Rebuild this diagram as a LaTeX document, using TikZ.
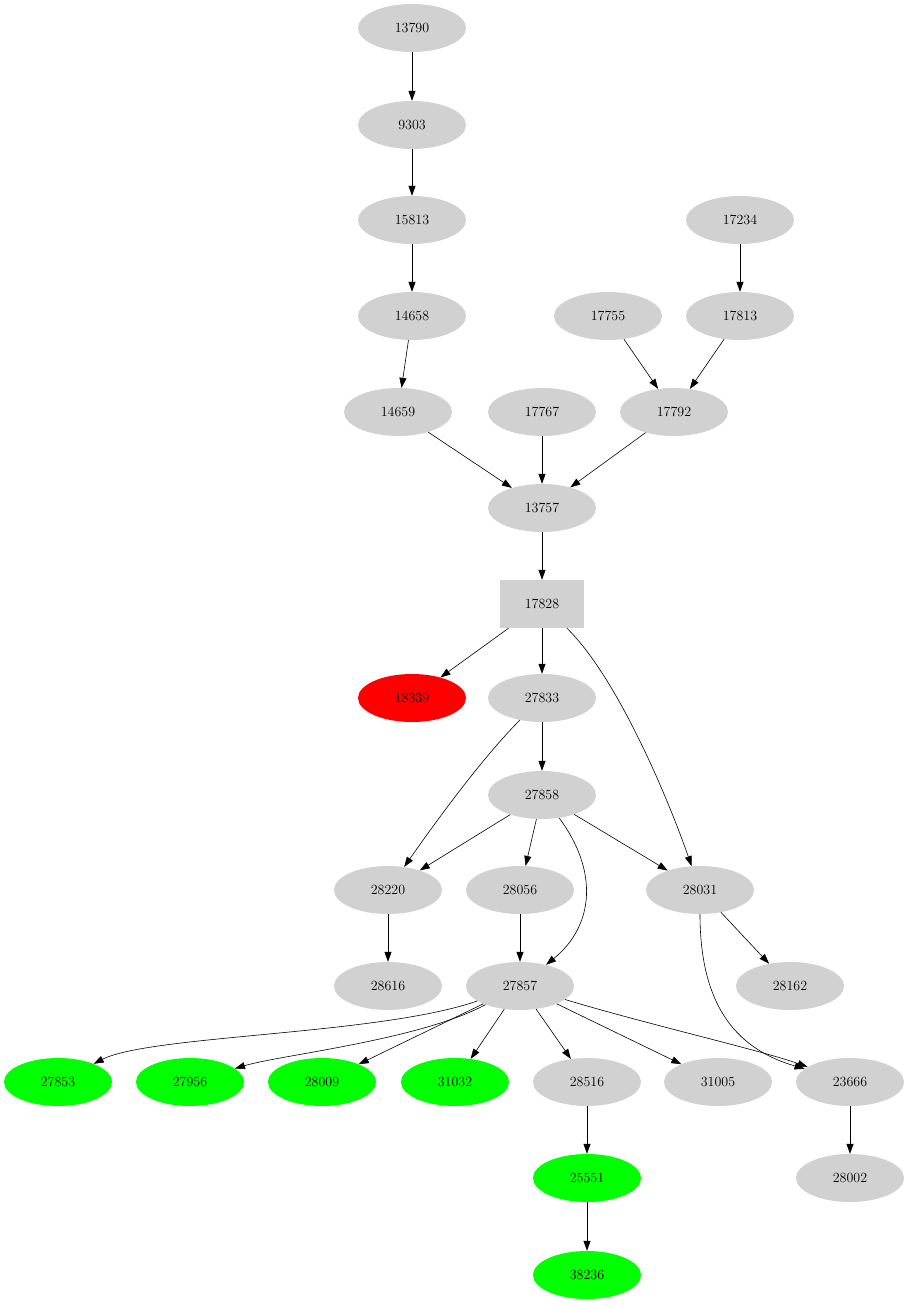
\documentclass[tikz,border=0pt]{standalone}
\usetikzlibrary{arrows.meta,shapes.geometric}
\begin{document}
\begin{tikzpicture}[x=1pt,y=-1pt,
  nd/.style={ellipse,fill=black!18,minimum width=108pt,minimum height=48pt,inner sep=0pt,font=\fontsize{14}{16}\selectfont},
  grn/.style={nd,fill={rgb,255:red,0;green,255;blue,0}},
  rd/.style={nd,fill=red},
  bx/.style={rectangle,fill=black!18,minimum width=84pt,minimum height=48pt,font=\fontsize{14}{16}\selectfont},
  ar/.style={-{Triangle[length=10pt,width=7pt]},line width=0.6pt}]
\useasboundingbox (0,0) rectangle (910,1307);
\node[nd] (a13790) at (412,28) {13790};
\node[nd] (a9303) at (412,125) {9303};
\node[nd] (a15813) at (412,220) {15813};
\node[nd] (a14658) at (412,316) {14658};
\node[nd] (a14659) at (398,412) {14659};
\node[nd] (a17767) at (542,412) {17767};
\node[nd] (a17792) at (674,412) {17792};
\node[nd] (a17234) at (740,220) {17234};
\node[nd] (a17755) at (608,316) {17755};
\node[nd] (a17813) at (740,316) {17813};
\node[nd] (a13757) at (542,508) {13757};
\node[bx] (a17828) at (542,604) {17828};
\node[rd] (a18339) at (412,698) {18339};
\node[nd] (a27833) at (542,698) {27833};
\node[nd] (a27858) at (542,795) {27858};
\node[nd] (a28220) at (388,890) {28220};
\node[nd] (a28056) at (520,890) {28056};
\node[nd] (a28031) at (700,890) {28031};
\node[nd] (a28616) at (388,986) {28616};
\node[nd] (a27857) at (520,986) {27857};
\node[nd] (a28162) at (790,986) {28162};
\node[grn] (a27853) at (58,1082) {27853};
\node[grn] (a27956) at (190,1082) {27956};
\node[grn] (a28009) at (322,1082) {28009};
\node[grn] (a31032) at (455,1082) {31032};
\node[nd] (a28516) at (587,1082) {28516};
\node[nd] (a31005) at (718,1082) {31005};
\node[nd] (a23666) at (850,1082) {23666};
\node[grn] (a25551) at (587,1178) {25551};
\node[nd] (a28002) at (850,1178) {28002};
\node[grn] (a38236) at (587,1275) {38236};
\draw[ar] (a13790)--(a9303);
\draw[ar] (a9303)--(a15813);
\draw[ar] (a15813)--(a14658);
\draw[ar] (a14658)--(a14659);
\draw[ar] (a17234)--(a17813);
\draw[ar] (a17755)--(a17792);
\draw[ar] (a17813)--(a17792);
\draw[ar] (a14659)--(a13757);
\draw[ar] (a17767)--(a13757);
\draw[ar] (a17792)--(a13757);
\draw[ar] (a13757)--(a17828);
\draw[ar] (a17828)--(a18339);
\draw[ar] (a17828)--(a27833);
\draw[ar] (a17828) .. controls (615,675) and (665,790) .. (a28031);
\draw[ar] (a27833)--(a27858);
\draw[ar] (a27833) .. controls (480,760) and (430,830) .. (a28220);
\draw[ar] (a27858)--(a28220);
\draw[ar] (a27858)--(a28056);
\draw[ar] (a27858)--(a28031);
\draw[ar] (a27858) .. controls (598,870) and (595,925) .. (a27857);
\draw[ar] (a28220)--(a28616);
\draw[ar] (a28056)--(a27857);
\draw[ar] (a28031)--(a28162);
\draw[ar] (a28031) .. controls (700,1010) and (740,1050) .. (a23666);
\draw[ar] (a27857) .. controls (380,1035) and (150,1035) .. (a27853);
\draw[ar] (a27857) .. controls (420,1040) and (280,1055) .. (a27956);
\draw[ar] (a27857)--(a28009);
\draw[ar] (a27857)--(a31032);
\draw[ar] (a27857)--(a28516);
\draw[ar] (a27857)--(a31005);
\draw[ar] (a27857) .. controls (650,1025) and (760,1050) .. (a23666);
\draw[ar] (a28516)--(a25551);
\draw[ar] (a25551)--(a38236);
\draw[ar] (a23666)--(a28002);
\end{tikzpicture}
\end{document}
